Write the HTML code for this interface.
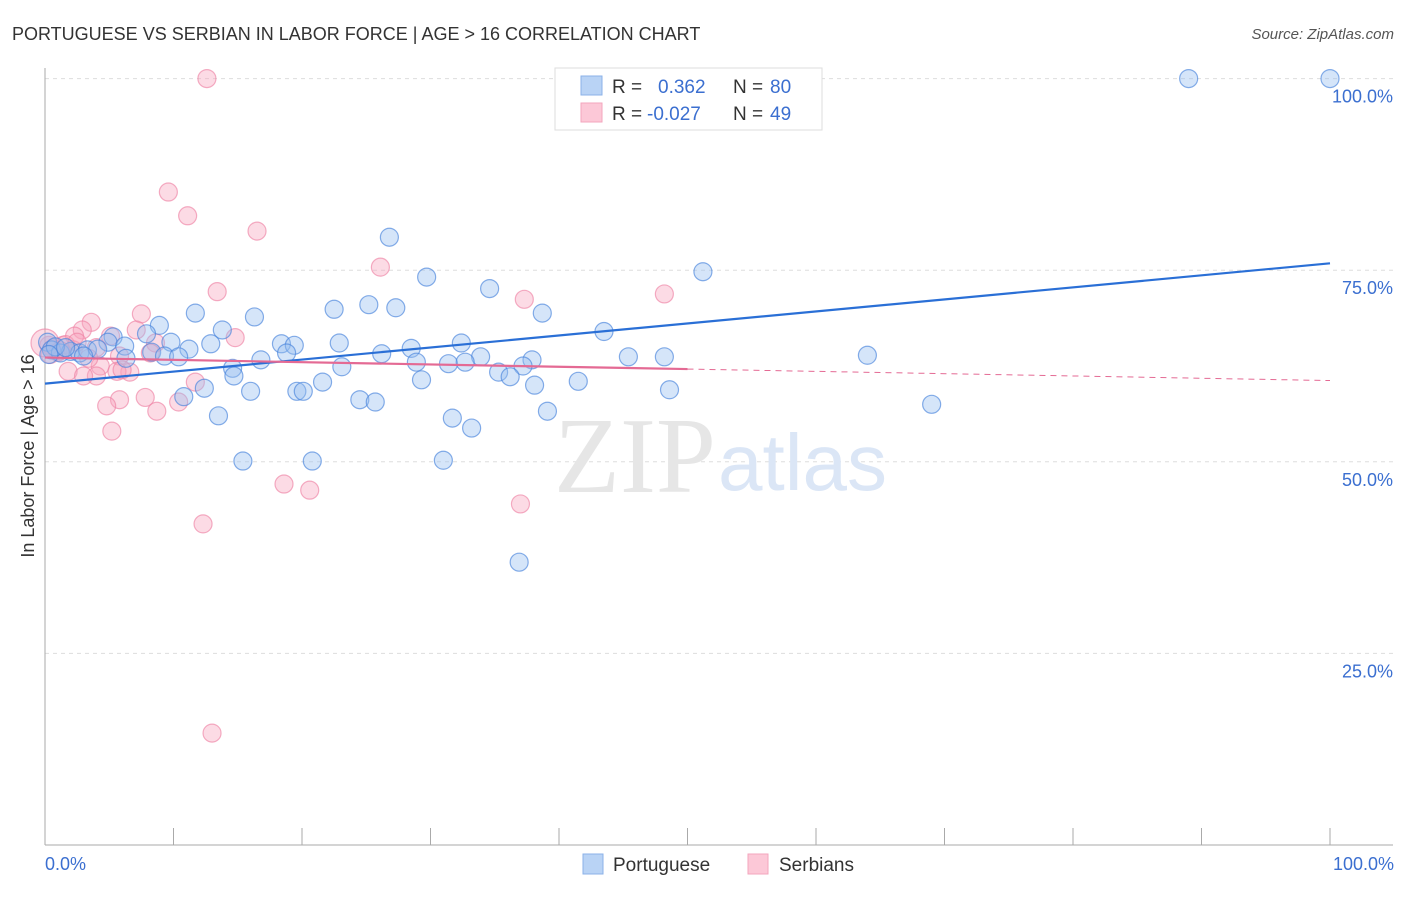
<!DOCTYPE html>
<html><head><meta charset="utf-8"><style>
body{margin:0;background:#fff;font-family:"Liberation Sans",sans-serif}
</style></head><body>
<svg width="1406" height="892" xmlns="http://www.w3.org/2000/svg">
<text x="12" y="40" font-size="18" fill="#333">PORTUGUESE VS SERBIAN IN LABOR FORCE | AGE &gt; 16 CORRELATION CHART</text>
<text x="1394" y="39" font-size="15" fill="#555" font-style="italic" text-anchor="end">Source: ZipAtlas.com</text>
<g id="grid"></g>
<text x="716" y="492" font-size="108" fill="#e6e6e6" font-family="Liberation Serif,serif" text-anchor="end">ZIP</text>
<text x="718" y="490" font-size="80" fill="#dbe6f6">atlas</text>
<g id="pts"></g>
<g id="lines"></g>
<text transform="translate(34,456) rotate(-90)" font-size="18" fill="#333" text-anchor="middle">In Labor Force | Age &gt; 16</text>
<text x="45" y="870" font-size="18" fill="#3b6fd0">0.0%</text>
<text x="1394" y="870" font-size="18" fill="#3b6fd0" text-anchor="end">100.0%</text>
<g>
<rect x="555" y="68" width="267" height="62" fill="#fff" stroke="#ddd"/>
<rect x="581" y="76" width="21" height="19" fill="#b9d3f5" stroke="#8bb1e8"/>
<rect x="581" y="103" width="21" height="19" fill="#fcc8d7" stroke="#f3a6bd"/>
<text x="612" y="93" font-size="19" fill="#333">R =</text><text x="658" y="93" font-size="19" fill="#3b6fd0">0.362</text>
<text x="733" y="93" font-size="19" fill="#333">N =</text><text x="770" y="93" font-size="19" fill="#3b6fd0">80</text>
<text x="612" y="120" font-size="19" fill="#333">R =</text><text x="647" y="120" font-size="19" fill="#3b6fd0">-0.027</text>
<text x="733" y="120" font-size="19" fill="#333">N =</text><text x="770" y="120" font-size="19" fill="#3b6fd0">49</text>
</g>
<g>
<rect x="583" y="854" width="20" height="20" fill="#b9d3f5" stroke="#8bb1e8"/>
<text x="613" y="871" font-size="19" fill="#333">Portuguese</text>
<rect x="748" y="854" width="20" height="20" fill="#fcc8d7" stroke="#f3a6bd"/>
<text x="779" y="871" font-size="19" fill="#333">Serbians</text>
</g>
</svg>
<script>
const yTicks=[25,50,75,100];
const yTickLabels=["25.0%","50.0%","75.0%","100.0%"];
const xTicks=[0,10,20,30,40,50,60,70,80,90,100];
const blueX=[89.0,100,26.8,29.7,51.2,34.6,22.5,25.2,27.3,38.7,11.7,16.3,8.9,13.8,43.5,5.3,7.9,4.9,9.8,12.9,18.4,19.4,22.9,32.4,6.2,11.2,28.5,8.3,18.8,26.2,9.3,10.4,33.9,45.4,48.2,64.0,16.8,28.9,31.4,32.7,37.9,37.2,23.1,14.6,35.3,36.2,14.7,21.6,29.3,41.5,38.1,12.4,16.0,19.6,20.1,48.6,10.8,24.5,25.7,69.0,39.1,13.5,31.7,33.2,15.4,20.8,31.0,36.9,0.2,0.5,1.2,2.0,2.7,3.3,4.1,0.8,3.0,6.3,1.6,0.3];
const blueY=[100,100,79.3,74.1,74.8,72.6,69.9,70.5,70.1,69.4,69.4,68.9,67.8,67.2,67.0,66.3,66.7,65.6,65.6,65.4,65.4,65.2,65.5,65.5,65.1,64.7,64.8,64.3,64.2,64.1,63.8,63.7,63.7,63.7,63.7,63.9,63.3,63.0,62.8,63.0,63.3,62.5,62.4,62.2,61.7,61.1,61.2,60.4,60.7,60.5,60.0,59.6,59.2,59.2,59.2,59.4,58.5,58.1,57.8,57.5,56.6,56.0,55.7,54.4,50.1,50.1,50.2,36.9,65.6,64.6,64.2,64.4,64.2,64.6,64.7,65.0,63.8,63.5,64.9,64.0];
const pinkX=[12.6,9.6,11.1,16.5,26.1,13.4,48.2,37.3,7.5,3.6,2.9,7.1,5.1,2.3,14.8,1.4,8.6,4.0,5.8,4.3,1.8,6.6,5.6,4.0,3.0,11.7,5.8,7.8,10.4,4.8,8.7,5.2,18.6,20.6,37.0,12.3,13.0,0.3,0.6,1.0,1.6,2.2,0.4,2.5,6.0,3.4,1.2,8.2,0.0];
const pinkY=[100,85.2,82.1,80.1,75.4,72.2,71.9,71.2,69.3,68.2,67.2,67.2,66.4,66.4,66.2,65.2,65.5,64.9,63.8,62.5,61.8,61.7,61.8,61.2,61.2,60.4,58.1,58.4,57.8,57.3,56.6,54.0,47.1,46.3,44.5,41.9,14.6,65.2,64.8,64.3,65.3,64.6,64.0,65.6,62.0,63.5,64.5,64.2,65.5];
const blueTrend=[60.2,75.9];
const pinkTrend=[63.6,60.6];
const X=v=>45+v*12.85, Y=v=>845-v*7.664;
const NS="http://www.w3.org/2000/svg";
function mk(t,a,p){const e=document.createElementNS(NS,t);for(const k in a)e.setAttribute(k,a[k]);p.appendChild(e);return e;}
const g=document.getElementById('grid');
yTicks.forEach((t,i)=>{
 const l=mk('line',{x1:45,x2:1393,y1:Y(t),y2:Y(t),stroke:'#ddd','stroke-dasharray':'4,4'},g);
 
 
 const tx=mk('text',{x:1393,y:Y(t)+24,'font-size':18,fill:'#3b6fd0','text-anchor':'end'},g);
 tx.textContent=yTickLabels[i];
 
 
});
const ax=mk('line',{x1:45,x2:1393,y1:845,y2:845,stroke:'#aaa'},g);


const ay=mk('line',{x1:45,x2:45,y1:68,y2:845,stroke:'#aaa'},g);


xTicks.forEach(t=>{
 const l=mk('line',{x1:X(t),x2:X(t),y1:828,y2:845,stroke:'#aaa'},g);
 
 
});
const p=document.getElementById('pts');
pinkX.forEach((x,i)=>{
 const c=mk('circle',{cx:X(x),cy:Y(pinkY[i]),r:i==pinkX.length-1?14:9,fill:'rgba(248,165,190,0.4)',stroke:'rgba(238,130,165,0.65)','stroke-width':1.2},p);
 
 
});
blueX.forEach((x,i)=>{
 const c=mk('circle',{cx:X(x),cy:Y(blueY[i]),r:9,fill:'rgba(150,190,240,0.4)',stroke:'rgba(70,130,220,0.65)','stroke-width':1.2},p);
 
 
});
const L=document.getElementById('lines');
const b=mk('line',{x1:X(0),y1:Y(blueTrend[0]),x2:X(100),y2:Y(blueTrend[1]),stroke:'#2a6fd6','stroke-width':2.2},L);


const pm=pinkTrend[0]+(pinkTrend[1]-pinkTrend[0])*0.5;
const ps=mk('line',{x1:X(0),y1:Y(pinkTrend[0]),x2:X(50),y2:Y(pm),stroke:'#e46a94','stroke-width':2.2},L);


const pd=mk('line',{x1:X(50),y1:Y(pm),x2:X(100),y2:Y(pinkTrend[1]),stroke:'#e46a94','stroke-width':1,'stroke-dasharray':'6,5'},L);


</script>
</body></html>
